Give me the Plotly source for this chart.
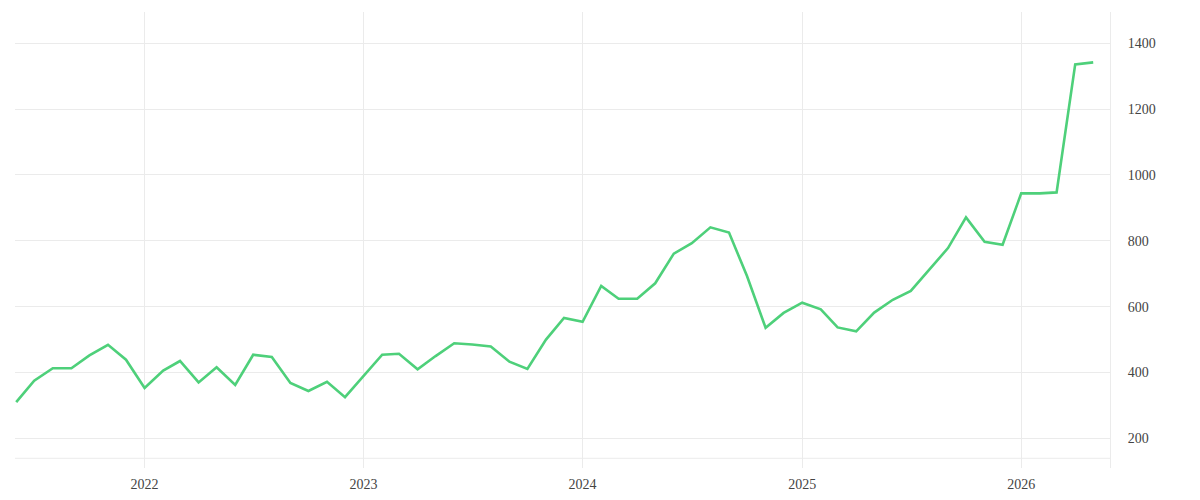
import pandas as pd
import plotly.graph_objects as go

start_month = "2021-06-01"
values = [
    310, 375, 413, 413, 452, 484, 439,
    353, 406, 435, 370, 416, 362, 454, 447, 368, 344, 372, 325,
    390, 454, 457, 410, 450, 489, 485, 479, 433, 411, 500, 566,
    554, 663, 624, 624, 671, 761, 793, 841, 825, 693, 536, 581,
    612, 592, 537, 525, 582, 621, 648, 712, 778, 871, 797, 788,
    944, 944, 947, 1336, 1342,
]
dates = pd.date_range(start_month, periods=len(values), freq="MS")
y_ticks = [200, 400, 600, 800, 1000, 1200, 1400]
x_ticks = ["2022-01-01", "2023-01-01", "2024-01-01", "2025-01-01", "2026-01-01"]
x_labels = ["2022", "2023", "2024", "2025", "2026"]

fig = go.Figure()
fig.add_trace(go.Scatter(
    x=dates, y=values, mode="lines",
    line=dict(color="#4ed07a", width=2.6),
    hoverinfo="x+y",
))

grid = "#ebebeb"
font = dict(family="Liberation Serif, DejaVu Serif, serif", size=14, color="#444")

fig.update_layout(
    width=1200, height=500,
    margin=dict(l=7, r=98, t=4, b=40),
    paper_bgcolor="white", plot_bgcolor="white",
    showlegend=False,
    font=font,
    xaxis=dict(
        type="date",
        range=["2021-05-30", "2026-05-29"],
        tickvals=x_ticks, ticktext=x_labels,
        showgrid=True, gridcolor=grid, gridwidth=1,
        zeroline=False, showline=False, ticks="",
        ticklabelstandoff=6,
        tickfont=font,
    ),
    yaxis=dict(
        side="right",
        range=[110, 1495],
        tickvals=y_ticks,
        showgrid=True, gridcolor=grid, gridwidth=1,
        zeroline=False, showline=True, linecolor=grid, linewidth=1,
        ticks="", ticklabelstandoff=14,
        tickfont=font,
    ),
    shapes=[dict(
        type="line", xref="paper", yref="paper",
        x0=0, x1=1, y0=0.0213, y1=0.0213,
        line=dict(color=grid, width=1), layer="below",
    )],
)

fig.write_html("out.html")
